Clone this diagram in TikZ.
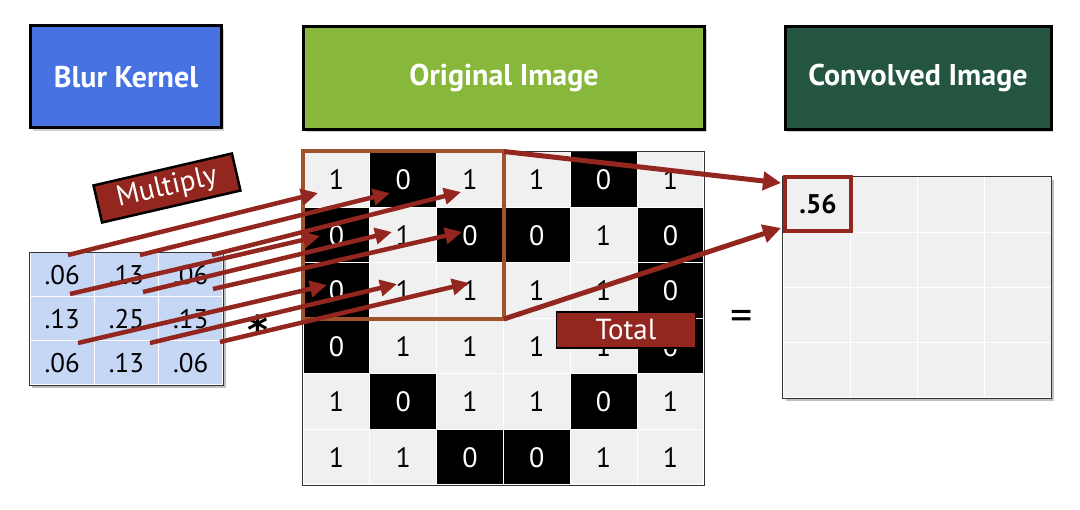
\documentclass[tikz,border=0pt]{standalone}
\usepackage{fontspec}
\setmainfont{PT Sans}
\newfontfamily\symfont{DejaVu Sans}
\usetikzlibrary{arrows.meta,shadows}
\definecolor{kblue}{HTML}{4773E2}
\definecolor{ogreen}{HTML}{87B83B}
\definecolor{cgreen}{HTML}{235541}
\definecolor{arrowred}{HTML}{93271F}
\definecolor{framebrown}{HTML}{A0522D}
\definecolor{kfill}{HTML}{C6D6F5}
\definecolor{cellgray}{HTML}{F0F0F0}
\tikzset{
  header/.style={draw=black, line width=3pt, text=white, inner sep=0pt,
    font=\bfseries\fontsize{30}{34}\selectfont,
    drop shadow={shadow xshift=2pt, shadow yshift=-3pt, opacity=0.35}},
  kcell/.style={fill=kfill, draw=white, line width=1pt, inner sep=0pt,
    minimum width=64.3pt, minimum height=44pt, font=\fontsize{27}{30}\selectfont},
  icell/.style={draw=white, line width=1pt, inner sep=0pt,
    minimum width=66.8pt, minimum height=55.5pt, font=\fontsize{28}{30}\selectfont},
  icell0/.style={icell, fill=black, text=white},
  icell1/.style={icell, fill=cellgray, text=black},
  ccell/.style={fill=cellgray, draw=white, line width=1pt, inner sep=0pt,
    minimum width=67pt, minimum height=55.25pt},
  gridborder/.style={draw=black!80, line width=1.2pt},
  karrow/.style={draw=arrowred, line width=4.5pt, -{Triangle[length=17pt,width=16pt]}},
  bigarrow/.style={draw=arrowred, line width=5pt, -{Triangle[length=18pt,width=18pt]}},
  redlabel/.style={fill=arrowred, draw=black, line width=2.5pt, text=white, inner sep=0pt,
    font=\fontsize{29}{32}\selectfont},
}
\begin{document}
\begin{tikzpicture}[x=1pt,y=-1pt]
\useasboundingbox[fill=white] (0,0) rectangle (1080,510);

% headers
\node[header, fill=kblue, minimum width=191pt, minimum height=102pt] (hk) at (126,77) {Blur Kernel};
\node[header, fill=ogreen, minimum width=401pt, minimum height=103pt] (ho) at (504,78) {Original Image};
\node[header, fill=cgreen, minimum width=266pt, minimum height=103pt] (hc) at (918,78) {Convolved Image};

% kernel
\fill[black, opacity=0.25] (32,256) rectangle (226,388);
\foreach \row [count=\r] in {{.06,.13,.06},{.13,.25,.13},{.06,.13,.06}} {
  \foreach \v [count=\c] in \row {
    \node[kcell] (k-\r-\c) at ({30+64.3*(\c-0.5)},{253+44*(\r-0.5)}) {\v};
  }
}
\draw[gridborder] (k-1-1.north west) rectangle (k-3-3.south east);

% original image
\foreach \row [count=\r] in {{1,0,1,1,0,1},{0,1,0,0,1,0},{0,1,1,1,1,0},{0,1,1,1,1,0},{1,0,1,1,0,1},{1,1,0,0,1,1}} {
  \foreach \v [count=\c] in \row {
    \node[icell\v] (i-\r-\c) at ({303+66.8*(\c-0.5)},{152+55.5*(\r-0.5)}) {\v};
  }
}
\draw[gridborder] (i-1-1.north west) rectangle (i-6-6.south east);
\draw[framebrown, line width=4pt] (i-1-1.north west) rectangle (i-3-3.south east);

% convolved image
\fill[black, opacity=0.25] (786,180) rectangle (1054,401);
\foreach \r in {1,...,4} {
  \foreach \c in {1,...,4} {
    \node[ccell] (c-\r-\c) at ({783+67*(\c-0.5)},{177+55.25*(\r-0.5)}) {};
  }
}
\draw[gridborder] (c-1-1.north west) rectangle (c-4-4.south east);
\node[draw=arrowred, line width=4.5pt, fill=cellgray, minimum width=66pt, minimum height=54pt,
  inner sep=0pt, font=\bfseries\fontsize{27}{30}\selectfont] (res) at (818,204) {.56};

% operators
\node[font=\symfont\bfseries\fontsize{40}{40}\selectfont, inner sep=0pt] (star) at (258,330) {*};
\node[font=\fontsize{44}{44}\selectfont, inner sep=0pt] (eq) at (742,320) {=};

% kernel arrows
\coordinate (s-1-1) at (68,255);  \coordinate (t-1-1) at (318,193);
\coordinate (s-1-2) at (140,255); \coordinate (t-1-2) at (390,193);
\coordinate (s-1-3) at (212,255); \coordinate (t-1-3) at (461,192);
\coordinate (s-2-1) at (70,294);  \coordinate (t-2-1) at (320,236);
\coordinate (s-2-2) at (143,292); \coordinate (t-2-2) at (392,232);
\coordinate (s-2-3) at (213,289); \coordinate (t-2-3) at (462,232);
\coordinate (s-3-1) at (78,343);  \coordinate (t-3-1) at (327,285);
\coordinate (s-3-2) at (150,343); \coordinate (t-3-2) at (397,284);
\coordinate (s-3-3) at (220,342); \coordinate (t-3-3) at (469,283);
\foreach \r in {1,2,3} {
  \foreach \c in {1,2,3} {
    \draw[karrow] (s-\r-\c) -- (t-\r-\c);
  }
}

% total arrows
\coordinate (r1) at (781,183);
\coordinate (r2) at (781,228);
\draw[bigarrow] (i-1-3.north east) -- (r1);
\draw[bigarrow] (i-3-3.south east) -- (r2);

% labels
\node[redlabel, rotate=13, minimum width=142pt, minimum height=38pt] (mult) at (167,188) {Multiply};
\node[redlabel, line width=1.5pt, minimum width=139pt, minimum height=36pt] (total) at (626,330) {Total};
\end{tikzpicture}
\end{document}
